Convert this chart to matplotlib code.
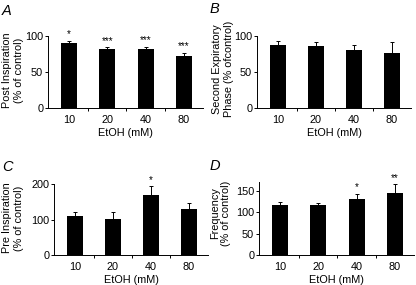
import matplotlib
matplotlib.use("Agg")
import matplotlib.pyplot as plt
import numpy as np

plt.rcParams['font.family'] = ['Liberation Sans', 'DejaVu Sans']

categories = ["10", "20", "40", "80"]
post_insp = [90.5, 81.5, 82, 72]
post_insp_err = [3, 3, 3, 5]
post_insp_sig = ["*", "***", "***", "***"]
second_exp = [87.5, 86, 81, 77]
second_exp_err = [5.5, 5.5, 6.5, 14]
second_exp_sig = ["", "", "", ""]
pre_insp = [110, 102, 170, 130]
pre_insp_err = [12, 18, 23, 17]
pre_insp_sig = ["", "", "*", ""]
freq = [117, 116.5, 130, 146]
freq_err = [8, 6, 13, 20]
freq_sig = ["", "", "*", "**"]

W, H = 416, 285
fig = plt.figure(figsize=(W/100, H/100), dpi=100)

def rect(left, bottom, width, height):
    return [left/W, 1-bottom/H, width/W, height/H]

FS = 7.8
panels = [
    ("A", rect(48, 108, 155, 72), post_insp, post_insp_err, post_insp_sig,
     "Post Inspiration\n(% of control)", (0, 100), [0, 50, 100], (2, 15), (13, 70)),
    ("B", rect(257, 108, 154, 72), second_exp, second_exp_err, second_exp_sig,
     "Second Expiratory\nPhase (% ofcontrol)", (0, 100), [0, 50, 100], (210, 13), (223, 69)),
    ("C", rect(54, 255, 154, 71), pre_insp, pre_insp_err, pre_insp_sig,
     "Pre Inspiration\n(% of control)", (0, 200), [0, 100, 200], (2, 171), (13, 218)),
    ("D", rect(259, 255, 155, 73.5), freq, freq_err, freq_sig,
     "Frequency\n(% of control)", (0, 172), [0, 50, 100, 150], (210, 170), (220.5, 213)),
]

x = np.arange(len(categories))
for letter, r, vals, errs, sigs, ylab, ylim, yticks, lpos, ypos in panels:
    ax = fig.add_axes(r)
    ax.bar(x, vals, width=0.42, color="black", zorder=2)
    ax.errorbar(x, vals, yerr=[np.zeros(len(vals)), errs], fmt="none",
                ecolor="black", elinewidth=0.7, capsize=1.5, capthick=0.7, zorder=1)
    span = ylim[1] - ylim[0]
    for xi, v, e, s in zip(x, vals, errs, sigs):
        if s:
            ax.text(xi, v + e + span*0.02, s, ha="center", va="bottom", fontsize=7)
    ax.set_xlim(-0.55, 3.5)
    ax.set_ylim(*ylim)
    ax.set_yticks(yticks)
    ax.set_xticks(x)
    ax.set_xticklabels(categories, fontsize=FS)
    ax.set_xticks([0.5, 1.5, 2.5], minor=True)
    ax.tick_params(axis="x", which="major", length=0, pad=5)
    ax.tick_params(axis="x", which="minor", length=2.5, width=0.7, direction="out")
    ax.tick_params(axis="y", length=2.5, width=0.7, direction="out", labelsize=FS, pad=1)
    for sp in ["top", "right"]:
        ax.spines[sp].set_visible(False)
    for sp in ["left", "bottom"]:
        ax.spines[sp].set_linewidth(0.7)
    ax.set_xlabel("EtOH (mM)", fontsize=FS, labelpad=2)
    fig.text(ypos[0]/W, 1-ypos[1]/H, ylab, fontsize=FS, rotation=90,
             ha="center", va="center", linespacing=1.2, multialignment="center")
    fig.text(lpos[0]/W, 1-lpos[1]/H, letter, fontsize=10.5, style="italic",
             ha="left", va="baseline")

fig.savefig("out.png", dpi=100)
